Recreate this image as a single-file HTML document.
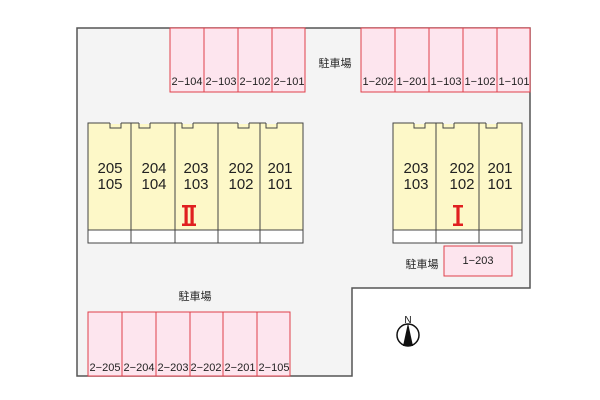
<!DOCTYPE html>
<html><head><meta charset="utf-8"><style>
body{margin:0;background:#fff;}
svg{display:block;font-family:"Liberation Sans","Noto Sans CJK JP",sans-serif;}
</style></head><body>
<svg width="600" height="400" viewBox="0 0 600 400" xmlns="http://www.w3.org/2000/svg">
<polygon points="77,28 530,28 530,288 352,288 352,376 77,376" fill="#f4f4f4" stroke="#555" stroke-width="1.5"/>
<g fill="#fde5ee" stroke="#e0404a" stroke-width="1">
<rect x="170" y="28" width="34" height="64"/><rect x="204" y="28" width="34" height="64"/><rect x="238" y="28" width="34" height="64"/><rect x="272" y="28" width="33" height="64"/>
<rect x="361" y="28" width="34" height="64"/><rect x="395" y="28" width="34" height="64"/><rect x="429" y="28" width="34" height="64"/><rect x="463" y="28" width="34" height="64"/><rect x="497" y="28" width="33" height="64"/>
<rect x="88" y="312" width="34" height="64"/><rect x="122" y="312" width="34" height="64"/><rect x="156" y="312" width="34" height="64"/><rect x="190" y="312" width="33" height="64"/><rect x="223" y="312" width="34" height="64"/><rect x="257" y="312" width="33" height="64"/>
<rect x="444" y="246" width="68" height="30"/>
</g>
<g font-size="11" fill="#222" text-anchor="middle">
<text x="187" y="85">2−104</text><text x="221" y="85">2−103</text><text x="255" y="85">2−102</text><text x="289" y="85">2−101</text>
<text x="378" y="85">1−202</text><text x="412" y="85">1−201</text><text x="446" y="85">1−103</text><text x="480" y="85">1−102</text><text x="514" y="85">1−101</text>
<text x="105" y="371">2−205</text><text x="139" y="371">2−204</text><text x="173" y="371">2−203</text><text x="206" y="371">2−202</text><text x="240" y="371">2−201</text><text x="274" y="371">2−105</text>
<text x="478" y="264">1−203</text>
<text x="335" y="67">駐車場</text><text x="422" y="268">駐車場</text><text x="195" y="300">駐車場</text>
</g>
<g stroke="#444" stroke-width="1">
<rect x="88" y="123" width="215" height="120" fill="#fdf8c8"/>
<rect x="88" y="230" width="215" height="13" fill="#fff"/>
<line x1="131" y1="123" x2="131" y2="243"/><line x1="175" y1="123" x2="175" y2="243"/><line x1="218" y1="123" x2="218" y2="243"/><line x1="260" y1="123" x2="260" y2="243"/>
<rect x="393" y="123" width="129" height="120" fill="#fdf8c8"/>
<rect x="393" y="230" width="129" height="13" fill="#fff"/>
<line x1="436" y1="123" x2="436" y2="243"/><line x1="479" y1="123" x2="479" y2="243"/>
</g>
<g fill="#f4f4f4" stroke="none">
<rect x="110" y="122" width="11" height="2"/><rect x="139" y="122" width="11" height="2"/><rect x="182" y="122" width="11" height="2"/><rect x="238" y="122" width="11" height="2"/><rect x="266" y="122" width="11" height="2"/>
<rect x="414" y="122" width="11" height="2"/><rect x="443" y="122" width="11" height="2"/><rect x="486" y="122" width="11" height="2"/>
</g>
<g fill="none" stroke="#444" stroke-width="1">
<path d="M110,123 v5 h11 v-5"/><path d="M139,123 v5 h11 v-5"/><path d="M182,123 v5 h11 v-5"/><path d="M238,123 v5 h11 v-5"/><path d="M266,123 v5 h11 v-5"/>
<path d="M414,123 v5 h11 v-5"/><path d="M443,123 v5 h11 v-5"/><path d="M486,123 v5 h11 v-5"/>
</g>
<g font-size="15" fill="#222" text-anchor="middle">
<text x="110" y="173">205</text><text x="110" y="189">105</text>
<text x="154" y="173">204</text><text x="154" y="189">104</text>
<text x="196" y="173">203</text><text x="196" y="189">103</text>
<text x="241" y="173">202</text><text x="241" y="189">102</text>
<text x="280" y="173">201</text><text x="280" y="189">101</text>
<text x="416" y="173">203</text><text x="416" y="189">103</text>
<text x="462" y="173">202</text><text x="462" y="189">102</text>
<text x="500" y="173">201</text><text x="500" y="189">101</text>
</g>
<g fill="#e02020">
<rect x="182" y="205" width="14" height="2.5"/><rect x="182" y="223.5" width="14" height="2.5"/><rect x="184.5" y="206" width="3.2" height="19"/><rect x="190.5" y="206" width="3.2" height="19"/>
<rect x="453" y="205" width="10" height="2.5"/><rect x="453" y="223.5" width="10" height="2.5"/><rect x="456.4" y="206" width="3.2" height="19"/>
</g>
<circle cx="408" cy="335" r="11" fill="#fff" stroke="#111" stroke-width="1.5"/>
<polygon points="408,323 403,346 413,346" fill="#111"/>
<text x="408" y="323" font-size="10" text-anchor="middle" fill="#111">N</text>
</svg>
</body></html>
